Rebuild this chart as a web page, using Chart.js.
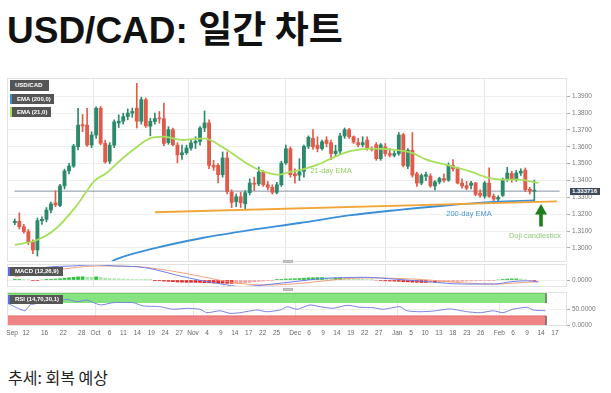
<!DOCTYPE html>
<html>
<head>
<meta charset="utf-8">
<script src="https://cdn.jsdelivr.net/npm/chart.js@4.4.0/dist/chart.umd.min.js"></script>
<style>
  body { margin: 0; background: #fff; font-family: 'Noto Sans CJK KR', 'Noto Sans', sans-serif; }
  #wrap { position: relative; width: 611px; height: 393px; overflow: hidden; }
  .panel { position: absolute; left: 0; width: 611px; }
  .frame { position: absolute; left: 7px; width: 560px; box-sizing: border-box; border: 1px solid #e2e2e2; pointer-events: none; }
  .title { position: absolute; left: 7px; top: 9px; font-family: 'Liberation Sans', 'Noto Sans CJK KR', sans-serif; font-size: 37px; line-height: 37px; font-weight: 700; color: #111; white-space: nowrap; }
  .title span { font-family: 'Noto Sans CJK KR', sans-serif; }
  .foot { position: absolute; left: 8px; top: 369px; font-size: 16px; line-height: 16px; color: #222; white-space: nowrap; }
  .tag { position: absolute; background: #555; color: #fff; font: bold 6px 'Liberation Sans', sans-serif; line-height: 10px; height: 10px; padding: 0 4px 0 5px; box-sizing: border-box; white-space: nowrap; }
  .note { position: absolute; transform: translate(-50%, -50%); font: 7.5px 'Liberation Sans', sans-serif; white-space: nowrap; }
  .handle { position: absolute; left: 283px; width: 10px; height: 3px; background: #c9c9c9; border: 1px solid #b5b5b5; box-sizing: border-box; }
</style>
</head>
<body>
<div id="wrap">
  <div class="title">USD/CAD: <span>일간 차트</span></div>

  <div class="panel" style="top:78px;height:184px;"><canvas id="mainChart"></canvas></div>
  <div class="panel" style="top:264px;height:23px;"><canvas id="macdChart"></canvas></div>
  <div class="panel" style="top:292px;height:48px;"><canvas id="rsiChart"></canvas></div>

  <div class="frame" style="top:78px;height:184px;"></div>
  <div class="frame" style="top:264px;height:23px;"></div>
  <div class="frame" style="top:292px;height:34px;"></div>

  <div class="tag" style="left:10px;top:80px;width:39px;height:11px;line-height:11px;">USD/CAD</div>
  <div class="tag" style="left:10px;top:94px;width:44px;border-left:2px solid #3b8fd9;">EMA (200,0)</div>
  <div class="tag" style="left:10px;top:107px;width:41px;border-left:2px solid #a6e05a;">EMA (21,0)</div>
  <div class="tag" style="left:8px;top:267px;width:55px;height:9px;line-height:9px;border-left:2px solid #5a6fd8;">MACD (12,26,9)</div>
  <div class="tag" style="left:8px;top:295px;width:55px;height:9px;line-height:9px;border-left:2px solid #5a6fd8;">RSI (14,70,30,1)</div>

  <div class="tag" style="left:570px;top:188px;width:30px;height:7px;line-height:7px;padding:0 2px;background:#3d4a5c;">1.333716</div>

  <div class="note" style="left:331px;top:170px;color:#95d060;">21-day EMA</div>
  <div class="note" style="left:469px;top:212.5px;color:#4a94d8;">200-day EMA</div>
  <div class="note" style="left:535px;top:235px;color:#8ccd7c;">Doji candlestick</div>

  <svg style="position:absolute;left:530px;top:200px;" width="22" height="30">
    <polygon points="11,4 5,14.5 9.2,14.5 9.2,26.5 12.8,26.5 12.8,14.5 17,14.5" fill="#1b801b"/>
  </svg>

  <div class="handle" style="top:259.5px;"></div>
  <div class="handle" style="top:288px;"></div>

  <div class="foot">추세: 회복 예상</div>
</div>

<script>
// daily USD/CAD candles, index 0 = first visible session (early Sep), last = doji
const openP  = [1.3150,1.3158,1.3126,1.3097,1.3037,1.2988,1.3162,1.3170,1.3225,1.3268,
                1.3252,1.3368,1.3457,1.3486,1.3601,1.3731,1.3729,1.3611,1.3670,1.3829,
                1.3621,1.3515,1.3610,1.3742,1.3752,1.3780,1.3800,1.3830,1.3752,1.3880,
                1.3722,1.3750,1.3770,1.3767,1.3625,1.3702,1.3610,1.3553,1.3565,1.3593,
                1.3623,1.3633,1.3712,1.3742,1.3490,1.3490,1.3435,1.3534,1.3330,1.3275,
                1.3304,1.3262,1.3328,1.3385,1.3380,1.3450,1.3375,1.3360,1.3330,1.3375,
                1.3504,1.3589,1.3440,1.3432,1.3455,1.3603,1.3650,1.3610,1.3590,1.3640,
                1.3625,1.3560,1.3575,1.3664,1.3702,1.3660,1.3625,1.3612,1.3640,1.3590,
                1.3613,1.3530,1.3600,1.3560,1.3550,1.3560,1.3672,1.3485,1.3580,1.3440,
                1.3385,1.3425,1.3427,1.3368,1.3392,1.3412,1.3402,1.3490,1.3470,1.3385,
                1.3370,1.3372,1.3385,1.3325,1.3307,1.3385,1.3307,1.3290,1.3312,1.3405,
                1.3442,1.3408,1.3445,1.3462,1.3348,1.3337];
const highP  = [1.3172,1.3208,1.3140,1.3110,1.3048,1.3178,1.3185,1.3240,1.3272,1.3339,
                1.3378,1.3468,1.3502,1.3615,1.3829,1.3792,1.3829,1.3690,1.3838,1.3840,
                1.3640,1.3625,1.3760,1.3790,1.3800,1.3825,1.3830,1.3977,1.3895,1.3890,
                1.3770,1.3800,1.3810,1.3860,1.3720,1.3712,1.3625,1.3610,1.3610,1.3640,
                1.3660,1.3720,1.3813,1.3760,1.3520,1.3500,1.3570,1.3570,1.3345,1.3320,
                1.3330,1.3340,1.3410,1.3420,1.3480,1.3460,1.3395,1.3375,1.3390,1.3515,
                1.3610,1.3600,1.3470,1.3530,1.3610,1.3665,1.3702,1.3660,1.3640,1.3660,
                1.3640,1.3610,1.3680,1.3712,1.3710,1.3665,1.3650,1.3660,1.3660,1.3600,
                1.3625,1.3620,1.3620,1.3590,1.3575,1.3685,1.3680,1.3590,1.3685,1.3450,
                1.3440,1.3450,1.3440,1.3400,1.3420,1.3440,1.3505,1.3524,1.3480,1.3410,
                1.3395,1.3395,1.3390,1.3345,1.3395,1.3475,1.3320,1.3310,1.3415,1.3479,
                1.3455,1.3460,1.3470,1.3475,1.3360,1.3403];
const lowP   = [1.3138,1.3112,1.3088,1.3020,1.2966,1.2952,1.3140,1.3155,1.3208,1.3245,
                1.3245,1.3350,1.3440,1.3478,1.3582,1.3690,1.3602,1.3595,1.3650,1.3612,
                1.3503,1.3500,1.3595,1.3715,1.3735,1.3760,1.3775,1.3712,1.3735,1.3715,
                1.3665,1.3735,1.3740,1.3605,1.3615,1.3605,1.3505,1.3525,1.3555,1.3580,
                1.3590,1.3610,1.3690,1.3470,1.3460,1.3386,1.3420,1.3320,1.3240,1.3245,
                1.3240,1.3226,1.3315,1.3340,1.3370,1.3365,1.3345,1.3320,1.3320,1.3365,
                1.3495,1.3420,1.3385,1.3400,1.3420,1.3590,1.3585,1.3570,1.3580,1.3600,
                1.3524,1.3545,1.3560,1.3650,1.3650,1.3620,1.3600,1.3600,1.3580,1.3575,
                1.3520,1.3520,1.3545,1.3540,1.3540,1.3550,1.3480,1.3470,1.3420,1.3365,
                1.3375,1.3400,1.3360,1.3345,1.3380,1.3390,1.3395,1.3455,1.3380,1.3355,
                1.3345,1.3350,1.3310,1.3300,1.3295,1.3300,1.3262,1.3270,1.3305,1.3395,
                1.3390,1.3395,1.3430,1.3335,1.3320,1.3274];
const closeP = [1.3158,1.3126,1.3097,1.3037,1.2988,1.3162,1.3170,1.3225,1.3262,1.3255,
                1.3368,1.3457,1.3486,1.3605,1.3729,1.3724,1.3611,1.3670,1.3829,1.3621,
                1.3510,1.3610,1.3748,1.3752,1.3780,1.3800,1.3810,1.3752,1.3880,1.3724,
                1.3752,1.3768,1.3766,1.3620,1.3702,1.3613,1.3552,1.3565,1.3593,1.3623,
                1.3633,1.3712,1.3742,1.3490,1.3480,1.3435,1.3534,1.3334,1.3270,1.3304,
                1.3268,1.3328,1.3385,1.3378,1.3450,1.3375,1.3360,1.3330,1.3375,1.3504,
                1.3589,1.3435,1.3428,1.3452,1.3603,1.3657,1.3600,1.3590,1.3630,1.3620,
                1.3560,1.3575,1.3664,1.3702,1.3660,1.3628,1.3612,1.3625,1.3593,1.3585,
                1.3530,1.3612,1.3560,1.3550,1.3560,1.3670,1.3490,1.3580,1.3433,1.3385,
                1.3430,1.3435,1.3368,1.3392,1.3412,1.3402,1.3490,1.3470,1.3385,1.3368,
                1.3355,1.3385,1.3318,1.3312,1.3386,1.3307,1.3290,1.3300,1.3405,1.3445,
                1.3408,1.3445,1.3455,1.3346,1.3338,1.3339];

// moving averages as [session index, price]
const ema21 = [[0,1.3018],[4.9,1.3047],[9.2,1.3117],[13.5,1.3245],[17.8,1.3403],[20,1.3439],
               [23.2,1.3516],[26.4,1.3587],[29.9,1.3650],[32.9,1.3661],[37.2,1.3641],[41.9,1.3650],
               [46.3,1.3593],[51.2,1.3504],[54,1.3464],[58.3,1.3435],[60.9,1.3451],[63.4,1.3464],
               [67,1.3494],[70.6,1.3538],[74.2,1.3574],[78.5,1.3589],[83.6,1.3583],[87.9,1.3564],
               [91.1,1.3524],[95.8,1.3491],[100.8,1.3455],[104.4,1.3419],[108,1.3405],[111.6,1.3405],
               [115.9,1.3385]];
const ema200 = [[21.3,1.2917],[22.1,1.2929],[30.8,1.2997],[41.5,1.3059],[52.3,1.3107],[63.1,1.3148],
                [73.9,1.3193],[84.6,1.3225],[95.4,1.3252],[106.2,1.3273],[115,1.3282]];
const trendLine = [[31.0,1.3212],[120.0,1.3276]];
const lastPrice = 1.333716;

// MACD panel
const macdLine = [[0,0.0061],[2.7,0.0101],[7,0.0155],[12.8,0.0171],[17.8,0.0186],[22.1,0.0171],
                  [27.1,0.0162],[30.8,0.0130],[35.7,0.0061],[41.5,-0.0009],[45.8,-0.0049],[50.1,-0.0080],
                  [55.1,-0.0061],[59.4,-0.0035],[63.1,-0.0012],[67.4,0.0015],[72.8,0.0030],[77.5,0.0033],
                  [84.6,0.0009],[91.7,-0.0021],[99.1,-0.0049],[106.2,-0.0049],[109.8,-0.0021],
                  [113.3,-0.0009],[115.9,-0.0024]];
const signalLine = [[0,0.0040],[9.2,0.0122],[18.5,0.0171],[27.1,0.0162],[34.4,0.0113],[41.5,0.0040],
                    [48.6,-0.0033],[55.9,-0.0061],[63.1,-0.0042],[71.7,0.0008],[77.5,0.0025],[84.6,0.0020],
                    [91.7,0.0000],[99.1,-0.0035],[106.2,-0.0050],[112.6,-0.0030],[115.9,-0.0020]];
// histogram per session, in thousandths
const macdHist = [0.8,0.8,0.6,0.5,-0.6,-0.6,0.5,0.8,1.0,1.2,
                  1.6,2.2,2.8,3.2,3.8,4.0,3.6,3.4,3.8,3.2,
                  2.2,1.8,1.6,1.4,1.2,1.0,0.8,0.6,0.5,0.3,
                  0.2,-0.4,-0.8,-1.4,-1.6,-2.0,-2.4,-2.6,-2.8,-2.8,
                  -2.8,-3.0,-3.2,-3.4,-3.6,-3.6,-3.8,-4.0,-4.2,-4.0,
                  -3.6,-3.2,-2.8,-2.2,-1.6,-1.2,-0.8,-0.4,0.4,0.8,
                  1.2,1.4,1.6,1.8,2.2,2.6,2.8,3.0,3.0,2.8,
                  2.6,2.6,2.8,2.4,2.0,1.6,1.2,1.0,0.6,0.3,
                  -0.2,-0.6,-1.0,-1.2,-1.4,-1.6,-2.0,-2.2,-2.6,-2.8,
                  -3.0,-3.0,-2.8,-2.8,-2.6,-2.4,-2.2,-2.0,-1.8,-1.6,
                  -1.4,-1.2,-1.0,-0.8,-0.6,-0.4,-0.3,0.2,0.8,1.2,
                  1.4,1.4,1.2,0.6,-0.4,-0.6];

// RSI panel
const rsiLine = [[0,69],[2,55.6],[3.8,46],[4.9,64],[7.7,71],[11.4,77],[12.8,81.5],[15,74],[17.1,79],
                 [20,64],[22.8,71],[27.1,71],[29.2,61],[32.9,58.6],[35.7,50.6],[38.7,53.7],[41.5,50.6],
                 [43,40],[45.8,46],[48,38],[50.1,40],[53.8,48.5],[55.9,43],[58.8,48.5],[60.3,58.6],
                 [62.4,50.6],[65.2,64],[67.4,58.6],[70.2,53.7],[73.2,63],[76,56.8],[78.8,55.6],
                 [80.9,50.6],[84.6,58.6],[86.1,46],[88.9,43],[91.7,45],[95.4,51.5],[99.1,43],
                 [101.9,40],[104.7,46],[106.8,40],[108.9,50.6],[112,56.8],[113.3,48.5],[115.9,46]];
const rsiUpper = [70, 100];
const rsiLower = [-1, 30];
const rsiBandEnd = 116.1;

// x-axis labels and where they sit (session index)
const tickPos = [1,4,8,12,16,19,22,25,28,31,34,37,40,43,46,49,52,55,58,62,65,68,71,74,77,80,
                 84,87,90,93,96,99,102,106,109,112,115,118];
const tickLabels = ['Sep','12','16','22','28','Oct','6','11','14','19','24','27','Nov','4','9','14','17',
                    '22','25','Dec','6','9','14','19','22','27','Jan','5','10','13','18','23','26',
                    'Feb','6','9','14','17'];
const monthPos = [19, 40, 62, 84, 106];
const priceTicks = [1.30,1.31,1.32,1.33,1.34,1.35,1.36,1.37,1.38,1.39];

const xMin = -0.1, xMax = 120.6;
const UP = '#2b8a6b', DOWN = '#e15b4b';
const axisFont = { family: 'Liberation Sans', size: 6.5 };

function xAxis(showLabels) {
    return {
        type: 'linear', min: xMin, max: xMax,
        afterBuildTicks: s => { s.ticks = tickPos.map(v => ({ value: v })); },
        afterFit: s => { s.height = showLabels ? 14 : 0; s.paddingLeft = 0; s.paddingRight = 0; },
        grid: {
            drawTicks: false,
            color: c => (c.tick && monthPos.includes(c.tick.value)) ? '#e6e6e6' : 'rgba(0,0,0,0)'
        },
        border: { display: false },
        ticks: {
            display: showLabels, autoSkip: false, maxRotation: 0, minRotation: 0, padding: 3,
            font: axisFont, color: '#666',
            callback: (v, i) => tickLabels[i]
        }
    };
}

function yAxis(min, max, vals) {
    return {
        position: 'right', min: min, max: max,
        afterBuildTicks: s => { s.ticks = vals.map(v => ({ value: v })); },
        afterFit: s => { s.width = 44; s.paddingTop = 0; s.paddingBottom = 0; },
        grid: { color: '#efefef', tickLength: 3, tickColor: '#aaa' },
        border: { display: false },
        ticks: { padding: 2, font: axisFont, color: '#777', callback: v => Number(v).toFixed(4) }
    };
}

const pts = arr => arr.map(p => ({ x: p[0], y: p[1] }));
const baseOptions = {
    responsive: true,
    maintainAspectRatio: false,
    animation: false,
    layout: { padding: { left: 7, right: 0, top: 0, bottom: 0 } },
    plugins: { legend: { display: false }, tooltip: { enabled: false } }
};

document.addEventListener('DOMContentLoaded', function () {
    const idx = closeP.map((_, i) => i);
    const candleColors = idx.map(i => closeP[i] >= openP[i] ? UP : DOWN);

    new Chart(document.getElementById('mainChart'), {
        type: 'bar',
        data: {
            datasets: [
                {
                    type: 'line', data: [{ x: xMin, y: lastPrice }, { x: xMax, y: lastPrice }],
                    borderColor: '#8793a6', borderWidth: 1, pointRadius: 0, order: 9
                },
                {
                    data: idx.map(i => ({ x: i, y: [lowP[i], highP[i]] })),
                    backgroundColor: candleColors, barThickness: 1, grouped: false, order: 6
                },
                {
                    data: idx.map(i => ({ x: i, y: [openP[i], closeP[i]] })),
                    backgroundColor: candleColors, barThickness: 3.2, grouped: false, minBarLength: 1, order: 5
                },
                {
                    type: 'line', data: pts(ema200), borderColor: '#3b8fd9', borderWidth: 1.8,
                    pointRadius: 0, cubicInterpolationMode: 'monotone', order: 3
                },
                {
                    type: 'line', data: pts(trendLine), borderColor: '#f2a53a', borderWidth: 1.8,
                    pointRadius: 0, order: 2
                },
                {
                    type: 'line', data: pts(ema21), borderColor: '#a6e05a', borderWidth: 1.8,
                    pointRadius: 0, cubicInterpolationMode: 'monotone', order: 1
                }
            ]
        },
        options: Object.assign({}, baseOptions, {
            scales: {
                x: xAxis(false),
                y: yAxis(1.29166, 1.40086, priceTicks)
            }
        })
    });

    const histColors = macdHist.map((h, i) => {
        const prev = i > 0 ? Math.abs(macdHist[i - 1]) : 0;
        const growing = Math.abs(h) >= prev;
        if (h >= 0) return growing ? '#2fbf3a' : '#a7e4a9';
        return growing ? '#e52424' : '#f2a3a3';
    });

    new Chart(document.getElementById('macdChart'), {
        type: 'bar',
        data: {
            datasets: [
                {
                    data: macdHist.map((h, i) => ({ x: i, y: h / 1000 })),
                    backgroundColor: histColors, barThickness: 3, grouped: false, order: 5
                },
                {
                    type: 'line', data: pts(signalLine), borderColor: '#f3a27d', borderWidth: 1,
                    pointRadius: 0, cubicInterpolationMode: 'monotone', order: 2
                },
                {
                    type: 'line', data: pts(macdLine), borderColor: '#6f7fe8', borderWidth: 1,
                    pointRadius: 0, cubicInterpolationMode: 'monotone', order: 1
                }
            ]
        },
        options: Object.assign({}, baseOptions, {
            scales: {
                x: xAxis(false),
                y: yAxis(-0.0085, 0.0195, [0])
            }
        })
    });

    new Chart(document.getElementById('rsiChart'), {
        type: 'line',
        data: {
            datasets: [
                {
                    data: [{ x: xMin, y: rsiUpper[1] }, { x: rsiBandEnd, y: rsiUpper[1] }],
                    fill: { value: rsiUpper[0] }, backgroundColor: '#86e480', borderColor: '#5fc95a',
                    borderWidth: 1, pointRadius: 0, order: 6
                },
                {
                    data: [{ x: xMin, y: rsiLower[1] }, { x: rsiBandEnd, y: rsiLower[1] }],
                    fill: { value: rsiLower[0] }, backgroundColor: '#f08383', borderColor: '#e56a6a',
                    borderWidth: 1, pointRadius: 0, order: 6
                },
                {
                    data: [{ x: rsiBandEnd, y: rsiUpper[0] }, { x: rsiBandEnd, y: rsiUpper[1] }],
                    borderColor: '#333', borderWidth: 1, pointRadius: 0, order: 5
                },
                {
                    data: [{ x: rsiBandEnd, y: rsiLower[0] }, { x: rsiBandEnd, y: rsiLower[1] }],
                    borderColor: '#333', borderWidth: 1, pointRadius: 0, order: 5
                },
                {
                    data: pts(rsiLine), borderColor: '#7b82e6', borderWidth: 1, pointRadius: 0,
                    tension: 0.2, order: 1
                }
            ]
        },
        options: Object.assign({}, baseOptions, {
            scales: {
                x: xAxis(true),
                y: yAxis(-1, 104, [0, 50])
            }
        })
    });
});
</script>
</body>
</html>
